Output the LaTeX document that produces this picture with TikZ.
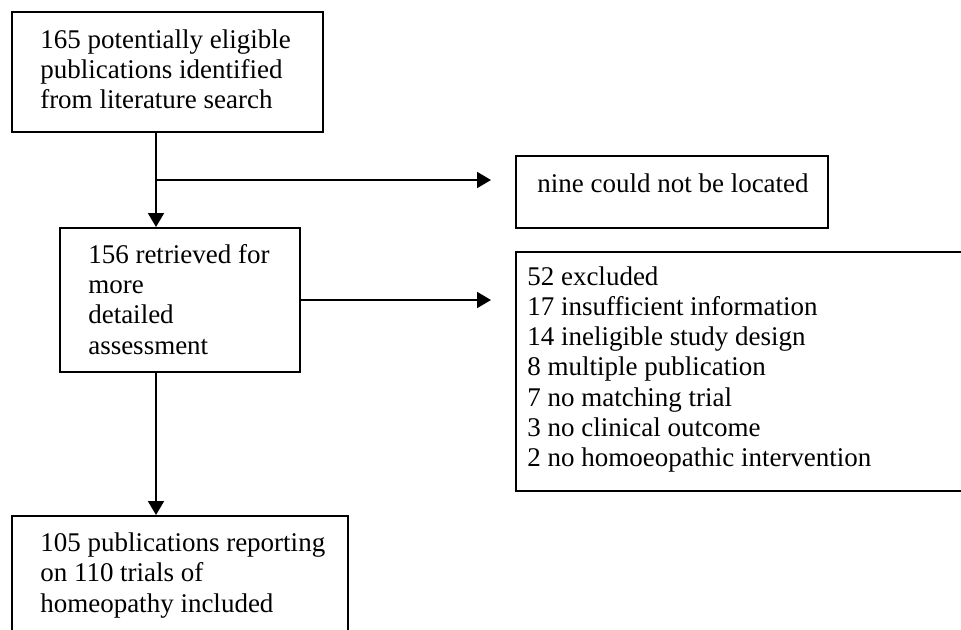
\documentclass[tikz,border=0pt]{standalone}
\usepackage{fontspec}
\setmainfont{Liberation Serif}
\usetikzlibrary{fit,arrows.meta}
\begin{document}
\begin{tikzpicture}[x=0.75pt,y=-0.75pt,
  box/.style={draw=black,line width=1.5pt,inner sep=0pt},
  txt/.style={anchor=base west,inner sep=0pt,font=\fontsize{20.25pt}{23pt}\selectfont},
  arr/.style={line width=1.5pt,-{Triangle[length=10.5pt,width=12pt]}},
  ln/.style={line width=1.5pt}]
\useasboundingbox (0,0) rectangle (961,629);
\clip (0,0) rectangle (961,629);
% boxes
\node[box,fit={(12,12) (323,132)}] (b1) {};
\node[box,fit={(516,156) (828,228)}] (nine) {};
\node[box,fit={(60,228) (300,372)}] (b2) {};
\node[box,fit={(516,252) (975,491)}] (ex) {};
\node[box,fit={(12,516) (348,650)}] (b3) {};
% texts
\foreach \t [count=\i] in {165 potentially eligible,publications identified,from literature search}
  \node[txt] (ta\i) at (40,{48+30*(\i-1)}) {\t};
\node[txt] (tn) at (537,192) {nine could not be located};
\foreach \t [count=\i] in {156 retrieved for,more,detailed,assessment}
  \node[txt] (tb\i) at (88,{263+30.4*(\i-1)}) {\t};
\foreach \t [count=\i] in {52 excluded,17 insufficient information,14 ineligible study design,8 multiple publication,7 no matching trial,3 no clinical outcome,2 no homoeopathic intervention}
  \node[txt] (te\i) at (527,{285+30.3*(\i-1)}) {\t};
\foreach \t [count=\i] in {105 publications reporting,on 110 trials of,homeopathy included}
  \node[txt] (tc\i) at (40,{551+30.5*(\i-1)}) {\t};
% connectors
\coordinate (v) at (156,0);
\coordinate (j) at (156,180);
\draw[arr] (b1.south -| v) -- (b2.north -| v);
\draw[arr] (j) -- ([xshift=-18pt]j -| nine.west);
\draw[arr] (b2.east) -- ([xshift=-18pt]b2.east -| ex.west);
\draw[arr] (b2.south -| v) -- (b3.north -| v);
\end{tikzpicture}
\end{document}
